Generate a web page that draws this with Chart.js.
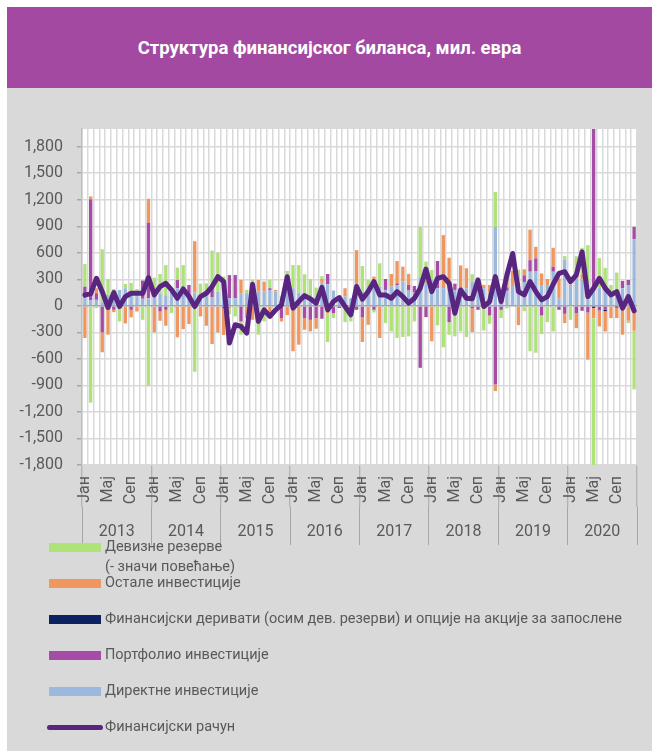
<!DOCTYPE html>
<html>
<head>
<meta charset="utf-8">
<script src="https://cdn.jsdelivr.net/npm/chart.js@4/dist/chart.umd.min.js"></script>
<style>
  body { margin: 0; background: #fff; font-family: Roboto, 'Noto Sans', sans-serif; }
  #box { position: absolute; left: 7px; top: 7px; width: 645px; height: 744px; background: #d9d9d9; overflow: hidden; }
  #head { height: 81px; background: #a349a1; color: #fff; font-weight: bold; font-size: 18.5px;
          display: flex; align-items: center; justify-content: center; }
  #chartWrap { position: absolute; left: 0; top: 81px; width: 645px; height: 470px; }
  .sw { position: absolute; left: 42px; width: 52px; height: 9px; }
  .sw.line { height: 5px; border-radius: 3px; left: 40px; width: 56px; }
  .txt { position: absolute; left: 98px; color: #595959; font-size: 14.5px; line-height: 20px; white-space: pre; }
</style>
</head>
<body>
<div id="box">
  <div id="head">Структура финансијског биланса, мил. евра</div>
  <div id="chartWrap"><canvas id="chart" width="645" height="470"></canvas></div>
  <div id="legend"></div>
</div>
<script>
// categories
const years = ['2013', '2014', '2015', '2016', '2017', '2018', '2019', '2020'];
const months = ['Јан', 'Феб', 'Мар', 'Апр', 'Мај', 'Јун', 'Јул', 'Авг', 'Сеп', 'Окт', 'Нов', 'Дец'];
const shownMonths = ['Јан', 'Мај', 'Сеп'];
const labels = years.flatMap(y => months.map(m => m + ' ' + y));

// series, mil. EUR, Jan 2013 - Dec 2020
const direct = [
  86, 60, 68, 40, 124, 150, 180, 199, 140, 110, 80, 86,
  110, 140, 120, 200, 199, 150, 86, 150, 120, 110, 100, 161,
  140, 86, 86, 143, 143, 255, 161, 161, 180, 161, 105, 200,
  199, 150, 124, 124, 105, 260, 244, 173, 60, 105, 86, 218,
  161, 199, 293, 218, 180, 218, 236, 274, 173, 150, 323, 250,
  300, 200, 200, 150, 180, 200, 200, 274, 200, 199, 150, 893,
  40, 170, 225, 200, 270, 386, 394, 236, 236, 386, 86, 518,
  225, 311, 300, 86, 180, 200, 200, 150, 170, 199, 236, 754
];
const portfolio = [
  131, 1144, 75, -300, 0, -45, 0, 0, -45, 0, 206, 855,
  0, -64, -45, 0, 94, 0, 150, 0, 0, 0, 113, 0,
  -30, 262, 262, -176, 0, 0, 0, 0, 19, 0, -139, 150,
  0, 0, -139, -158, -139, -146, 116, -83, -25, 0, -45, -45,
  -131, 0, -45, 0, 124, 0, 19, 0, 64, 75, -701, -128,
  0, 307, 0, -184, 71, 0, 0, -26, -45, 0, -109, -889,
  -45, 40, 0, 60, 75, 131, 143, -109, 0, 56, -45, -90,
  0, -83, -56, -75, 1850, -53, -45, 0, 0, 83, 56, 139
];
const derivatives = [
  0, 0, 0, 0, 0, 0, 0, 0, 0, 0, 0, 0,
  0, 0, 0, 0, 0, 0, 0, 0, 0, 0, 0, 0,
  0, 0, 0, 0, 0, 0, 0, 0, 0, 0, 0, 0,
  0, 0, 0, 0, 0, 0, 0, 0, 0, 0, 0, 0,
  0, 0, 0, 0, 0, 0, 0, 0, 0, 0, 0, 0,
  0, 0, 0, 0, 0, 0, 0, 0, 0, 0, 0, 0,
  0, 0, 0, 0, 0, 0, 0, 0, 0, 0, 0, 0,
  0, 0, 0, 0, -23, 0, -15, 0, -19, 0, 0, 0
];
const other = [
  -364, 34, 56, -225, -326, -26, 0, -199, -86, -64, 0, 270,
  -300, -105, -180, 0, -356, -263, -206, 581, -120, -225, -431, -300,
  -300, -30, 0, 150, -139, -158, 131, 113, -139, 19, -38, -105,
  -514, -439, -131, -131, -120, 45, -83, 0, 0, 94, 0, 412,
  -278, -214, 38, -364, 0, 143, 251, 169, 124, 0, 0, 80,
  -401, 0, 600, 394, 0, 257, 225, -270, 0, 38, 86, -75,
  0, 100, 173, -218, 68, 345, 131, 131, 68, 214, 225, -105,
  19, -169, 56, -533, -116, -180, -230, -139, -120, -326, -169, -281
];
const reserves = [
  255, -1095, -26, 600, 180, 40, -176, 49, 120, 80, -158, -907,
  209, 220, 341, -80, 139, 311, 0, -746, 131, 145, 412, 439,
  191, -64, -120, -150, 38, 38, -326, -176, 94, 0, 0, 45,
  263, 311, 233, 180, 101, 30, -326, -56, 0, -184, -131, 0,
  289, 94, -30, 263, -195, -289, -364, -353, -345, -176, 570, 170,
  105, -221, -469, -143, -345, -289, -353, 83, 124, -278, -94, 394,
  -94, -30, 0, 150, -60, -514, -531, -210, -184, -289, 0, 45,
  -158, 250, 300, 600, -1850, 340, 230, 86, 206, 0, -26, -664
];
const financialAccount = [
  124, 135, 311, 160, -19, 150, -8, 105, 142, 142, 142, 320,
  124, 218, 255, 180, 86, 191, 105, -8, 105, 142, 218, 330,
  274, -420, -214, -232, -308, 244, -176, -45, -120, -45, 11, 330,
  -26, 49, 116, 79, 30, 210, -45, 49, 94, -8, -101, 218,
  75, 161, 274, 124, 124, 86, 161, 105, 30, 86, 199, 416,
  161, 311, 330, 255, -83, 180, 86, 79, 292, -8, 49, 330,
  49, 349, 592, 161, 124, 274, 161, 68, 105, 244, 368, 386,
  274, 349, 611, 105, 199, 311, 199, 124, 161, -26, 105, -56
];

const font = 'Roboto, "Noto Sans", sans-serif';
const grey = '#595959';

const plotBg = {
  id: 'plotBg',
  beforeDraw(chart) {
    const { ctx, chartArea: a } = chart;
    ctx.save();
    ctx.fillStyle = '#ffffff';
    ctx.fillRect(a.left, a.top, a.right - a.left, a.bottom - a.top);
    ctx.restore();
  }
};

const chart = new Chart(document.getElementById('chart').getContext('2d'), {
  type: 'bar',
  data: {
    labels: labels,
    datasets: [
      { type: 'line', label: 'Финансијски рачун', data: financialAccount, borderColor: '#582580',
        backgroundColor: '#582580', borderWidth: 5, pointRadius: 0, tension: 0,
        borderJoinStyle: 'round', borderCapStyle: 'round', stack: 'line', order: 0 },
      { label: 'Директне инвестиције', data: direct, backgroundColor: '#9bb9de', order: 1 },
      { label: 'Портфолио инвестиције', data: portfolio, backgroundColor: '#a64ca6', order: 1 },
      { label: 'Финансијски деривати (осим дев. резерви) и опције на акције за запослене', data: derivatives, backgroundColor: '#0c2160', order: 1 },
      { label: 'Остале инвестиције', data: other, backgroundColor: '#f0975f', order: 1 },
      { label: 'Девизне резерве\n(- значи повећање)', data: reserves, backgroundColor: '#b0e27a', order: 1 }
    ]
  },
  options: {
    responsive: false,
    animation: false,
    datasets: { bar: { categoryPercentage: 1, barPercentage: 0.58 } },
    layout: { padding: { left: 0, right: 15, top: 41, bottom: 11 } },
    plugins: { legend: { display: false }, tooltip: { enabled: false } },
    scales: {
      x: {
        stacked: true,
        weight: 1,
        grid: {
          offset: true, color: '#d9d9d9', lineWidth: 1.5, tickLength: 42, tickWidth: 1,
          tickColor: c => (c.index === undefined || c.index % 12 === 0) ? '#a6a6a6' : 'rgba(0,0,0,0)'
        },
        border: { display: false },
        ticks: {
          autoSkip: false, minRotation: 90, maxRotation: 90, padding: -31, color: grey,
          font: { family: font, size: 16 },
          callback: (v, i) => {
            const m = labels[i].split(' ')[0];
            return shownMonths.includes(m) ? m : '';
          }
        },
        afterFit: s => { s.height = 42; }
      },
      x2: {
        type: 'category',
        labels: years,
        position: 'bottom',
        offset: true,
        weight: 2,
        grid: { offset: true, drawOnChartArea: false, tickLength: 38, color: '#a6a6a6', lineWidth: 1 },
        border: { display: false },
        ticks: { padding: -23, color: grey, maxRotation: 0, font: { family: font, size: 16 } },
        afterFit: s => { s.height = 40; }
      },
      y: {
        stacked: true,
        min: -1800,
        max: 2000,
        ticks: {
          stepSize: 300, includeBounds: false, padding: 14, color: grey,
          font: { family: font, size: 16 },
          callback: v => v.toLocaleString('en-US')
        },
        afterBuildTicks: s => { s.ticks = s.ticks.filter(t => t.value <= 1800); },
        grid: {
          color: c => (c.tick && c.tick.value === 0) ? '#a6a6a6' : '#d9d9d9',
          lineWidth: 1.5, tickLength: 5, tickColor: '#a6a6a6'
        },
        border: { color: '#bfbfbf', width: 1.5 },
        afterFit: s => { s.width = 75; }
      }
    }
  },
  plugins: [plotBg]
});

// legend in the order of the original (reserves first, account last)
const legend = document.getElementById('legend');
[5, 4, 3, 2, 1, 0].forEach((di, row) => {
  const ds = chart.data.datasets[di];
  const y = 540 + row * 36;
  const sw = document.createElement('div');
  sw.className = 'sw' + (ds.type === 'line' ? ' line' : '');
  sw.style.background = ds.backgroundColor;
  sw.style.top = (ds.type === 'line' ? y - 2.5 : y - 4.5) + 'px';
  const tx = document.createElement('div');
  tx.className = 'txt';
  tx.style.top = (y - 10) + 'px';
  tx.textContent = ds.label;
  legend.appendChild(sw);
  legend.appendChild(tx);
});
</script>
</body>
</html>
